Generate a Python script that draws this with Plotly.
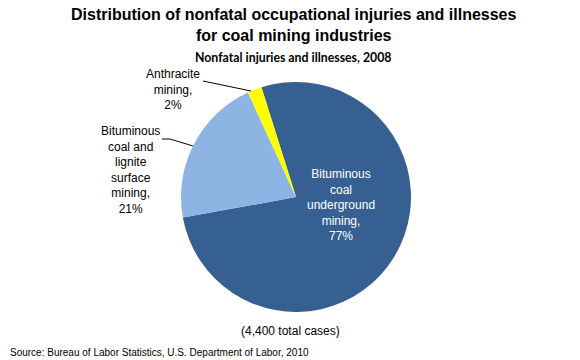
import plotly.graph_objects as go

industries = ["Bituminous coal underground mining",
              "Bituminous coal and lignite surface mining",
              "Anthracite mining"]
shares = [77, 21, 2]
slice_labels = ["Bituminous<br>coal<br>underground<br>mining,<br>77%",
                "Bituminous<br>coal and<br>lignite<br>surface<br>mining,<br>21%",
                "Anthracite<br>mining,<br>2%"]
colors = ["#376092", "#8EB4E3", "#FFFF00"]

W, H = 580, 360
def px(x): return x / W
def py(y): return 1 - y / H

fig = go.Figure(go.Pie(
    labels=industries, values=shares, sort=False, direction="clockwise",
    rotation=-17.5, marker=dict(colors=colors, line=dict(width=0)),
    textinfo="none", hoverinfo="label+percent", showlegend=False,
    domain=dict(x=[px(181), px(411)], y=[py(312), py(82)]),
))

FONT = "Liberation Sans, Arial"
def note(x, y, text, size=12, color="black", family=FONT, xanchor="center"):
    fig.add_annotation(x=px(x), y=py(y), xref="paper", yref="paper",
                       xanchor=xanchor, yanchor="middle", text=text, showarrow=False,
                       font=dict(family=family, size=size, color=color))

# slice labels
note(341, 205, slice_labels[0], color="white")
note(130, 170, slice_labels[1])
note(173, 89, slice_labels[2])

# leader lines
fig.add_shape(type="path", xref="paper", yref="paper",
              path=f"M {px(203)} {py(81)} L {px(251)} {py(91)}",
              line=dict(color="black", width=1))
fig.add_shape(type="path", xref="paper", yref="paper",
              path=f"M {px(162)} {py(139)} L {px(170)} {py(139)} L {px(193)} {py(146)}",
              line=dict(color="black", width=1))

note(293, 25, "<b>Distribution of nonfatal occupational injuries and illnesses<br>for coal mining industries</b>", size=16)
note(293, 57, "<b>Nonfatal injuries and illnesses, 2008</b>", size=12.3, family="Lato")
note(291, 331, "(4,400 total cases)")
note(8, 352, "Source: Bureau of Labor Statistics, U.S. Department of Labor, 2010", size=10, xanchor="left")

fig.update_layout(width=W, height=H, margin=dict(l=0, r=0, t=0, b=0),
                  paper_bgcolor="white", plot_bgcolor="white")
fig.write_html("out.html", config={"displayModeBar": False},
               post_script="document.body.style.margin='0';document.body.style.padding='0';")
